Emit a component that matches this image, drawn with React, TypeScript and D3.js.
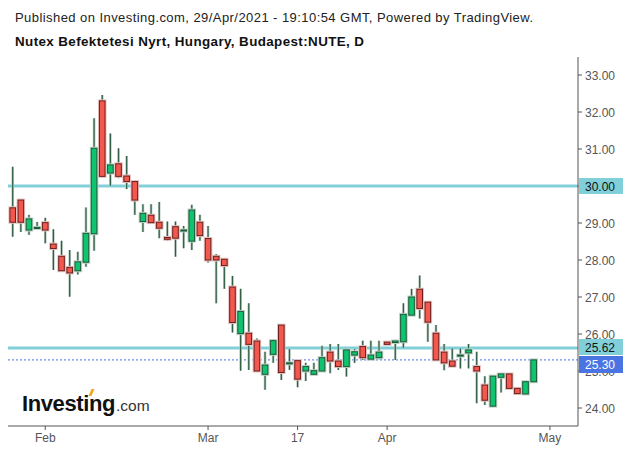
import React from "react";
import * as d3 from "d3";

const opens = [29.41, 29.62, 28.81, 28.87, 29.01, 28.43, 28.1, 27.8, 27.71, 27.94, 28.71, 32.3, 30.35, 30.6, 30.27, 30.12, 29.04, 29.21, 29.02, 28.61, 28.9, 28.8, 28.51, 29.02, 28.58, 28.1, 28.02, 27.27, 26.01, 26.02, 25.81, 24.91, 25.45, 26.24, 25.21, 25.28, 25.0, 24.91, 25.0, 25.51, 25.27, 25.12, 25.43, 25.66, 25.32, 25.36, 25.78, 25.77, 25.79, 26.51, 27.21, 26.86, 26.02, 25.51, 25.27, 25.42, 25.49, 25.12, 24.62, 24.05, 24.83, 24.92, 24.53, 24.38, 24.71];
const highs = [30.52, 29.65, 29.22, 29.03, 29.14, 28.83, 28.52, 28.27, 28.22, 29.42, 31.83, 32.46, 31.42, 31.02, 30.81, 30.14, 29.51, 29.51, 29.57, 29.04, 29.04, 28.92, 29.49, 29.22, 28.92, 28.16, 28.05, 27.57, 27.22, 26.83, 25.88, 25.52, 25.86, 26.27, 25.59, 25.3, 25.22, 25.22, 25.68, 25.73, 25.73, 25.59, 25.59, 25.82, 25.82, 25.82, 25.8, 25.84, 26.83, 27.22, 27.58, 26.86, 26.24, 25.73, 25.61, 25.61, 25.73, 25.52, 24.86, 24.86, 24.94, 24.94, 24.53, 24.73, 25.31];
const lows = [28.63, 28.76, 28.68, 28.83, 28.45, 27.73, 27.68, 27.01, 27.61, 27.82, 28.25, 30.24, 30.01, 30.21, 29.92, 29.22, 28.76, 28.98, 28.59, 28.52, 28.09, 28.32, 28.27, 28.52, 27.93, 26.83, 27.22, 26.04, 25.01, 25.03, 24.97, 24.49, 25.22, 24.76, 25.03, 24.56, 24.73, 24.91, 24.98, 24.94, 25.03, 24.85, 25.22, 25.3, 25.32, 25.32, 25.72, 25.3, 25.63, 26.51, 26.42, 25.79, 25.3, 25.02, 25.13, 25.07, 25.07, 24.13, 24.08, 24.05, 24.42, 24.53, 24.39, 24.38, 24.71];
const closes = [29.02, 29.02, 29.11, 28.88, 28.81, 28.31, 27.71, 27.65, 27.95, 28.72, 31.02, 30.26, 30.57, 30.26, 30.12, 29.62, 29.26, 29.01, 28.86, 28.56, 28.59, 28.81, 29.35, 28.66, 28.0, 28.0, 27.85, 26.31, 26.61, 25.72, 25.0, 25.16, 25.82, 24.96, 25.22, 24.78, 25.12, 25.01, 25.36, 25.27, 25.12, 25.57, 25.52, 25.36, 25.43, 25.51, 25.72, 25.81, 26.53, 27.0, 26.69, 26.32, 25.3, 25.22, 25.13, 25.43, 25.57, 25.0, 24.21, 24.86, 24.92, 24.53, 24.39, 24.71, 25.3];

const priceTicks = [24, 25, 26, 27, 28, 29, 30, 31, 32, 33];
const dateTickIndex = [4, 24, 35, 46, 66];
const dateTickLabels = ["Feb", "Mar", "17", "Apr", "May"];
const levelLines = [30.0, 25.62];
const lastPrice = 25.3;

const FONT = "'Liberation Sans', Arial, sans-serif";

export default function App() {
  const x = d3.scaleLinear().domain([0, 66]).range([12.7, 12.7 + 66 * 8.14]);
  const y = d3.scaleLinear().domain([24, 33]).range([408, 75]);
  const axisX = 578;
  const axisBottom = 426;
  const bw = 5.6;

  return (
    <svg width={629} height={453} style={{ position: "absolute", left: 0, top: 0, background: "#fff" }} fontFamily={FONT}>
      <rect width={629} height={453} fill="#fff" />
      <text x={15} y={22} fontSize={13} fill="#222" textLength={518} lengthAdjust="spacing">Published on Investing.com, 29/Apr/2021 - 19:10:54 GMT, Powered by TradingView.</text>
      <text x={15} y={46} fontSize={13.4} fontWeight="bold" fill="#111" textLength={349} lengthAdjust="spacing">Nutex Befektetesi Nyrt, Hungary, Budapest:NUTE, D</text>

      {/* level lines */}
      {levelLines.map((v, i) => (
        <line key={"lv" + i} x1={8} x2={axisX} y1={y(v)} y2={y(v)} stroke="#80cfd9" strokeWidth={3} />
      ))}
      <line x1={8} x2={axisX} y1={y(lastPrice)} y2={y(lastPrice)} stroke="#6d8ff0" strokeWidth={1.2} strokeDasharray="2,2" />

      {/* candles */}
      {opens.map((o, i) => {
        const c = closes[i];
        const up = c >= o;
        const cx = x(i);
        const top = y(Math.max(o, c));
        const bot = y(Math.min(o, c));
        const h = Math.max(1, bot - top);
        return (
          <g key={"c" + i}>
            <line x1={cx} x2={cx} y1={y(highs[i])} y2={y(lows[i])} stroke="#b9c9bf" strokeWidth={2.6} />
            <line x1={cx} x2={cx} y1={y(highs[i])} y2={y(lows[i])} stroke="#2f5e44" strokeWidth={1.2} />
            <rect x={cx - bw / 2} y={top} width={bw} height={h} fill="none" stroke={up ? "#bcd3c6" : "#e2c4c2"} strokeWidth={3} />
            <rect x={cx - bw / 2} y={top} width={bw} height={h} fill={up ? "#0fc46f" : "#f2584e"} stroke={up ? "#1d5a38" : "#6e1f1c"} strokeWidth={1} />
          </g>
        );
      })}

      {/* axes */}
      <line x1={axisX} x2={axisX} y1={57} y2={axisBottom} stroke="#555" strokeWidth={1} />
      <line x1={8} x2={axisX} y1={axisBottom} y2={axisBottom} stroke="#555" strokeWidth={1} />
      {priceTicks.map((v) => (
        <g key={"pt" + v}>
          <line x1={axisX} x2={axisX + 4} y1={y(v)} y2={y(v)} stroke="#555" />
          <text x={axisX + 7} y={y(v) + 4.5} fontSize={12} fill="#555">{v.toFixed(2)}</text>
        </g>
      ))}
      {dateTickIndex.map((d, i) => (
        <g key={"dt" + i}>
          <line x1={x(d)} x2={x(d)} y1={axisBottom} y2={axisBottom + 4} stroke="#555" />
          <text x={x(d)} y={442} fontSize={12} fill="#555" textAnchor="middle">{dateTickLabels[i]}</text>
        </g>
      ))}

      {/* price labels */}
      <rect x={axisX + 1} y={y(30) - 8} width={44} height={16} fill="#80cfd9" />
      <text x={axisX + 7} y={y(30) + 4.5} fontSize={12} fill="#111">30.00</text>
      <rect x={axisX + 1} y={339} width={44} height={16} fill="#80cfd9" />
      <text x={axisX + 7} y={351.5} fontSize={12} fill="#111">{(25.62).toFixed(2)}</text>
      <rect x={axisX + 1} y={356} width={44} height={17} fill="#4b74e3" />
      <text x={axisX + 7} y={369} fontSize={12} fill="#fff">{lastPrice.toFixed(2)}</text>

      {/* logo */}
      <text x={22} y={411} fill="#111">
        <tspan fontSize={22} fontWeight="bold" letterSpacing={-0.4}>Investing</tspan>
        <tspan fontSize={15.5} fill="#333" dx={1}>.com</tspan>
      </text>
      <path d="M88.5,396 L91.5,389 L94.5,389 L91.5,396 Z" fill="#f5a623" />
    </svg>
  );
}
